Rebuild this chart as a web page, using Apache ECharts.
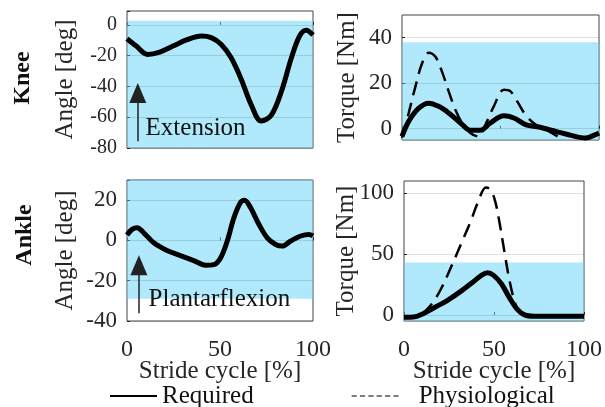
<html>
<head>
  <script src="https://cdn.jsdelivr.net/npm/echarts@6/dist/echarts.min.js"></script>
</head>
<body style="margin:0">
  <div id="main" style="width: 605px;height:407px;"></div>
  <script>
    // knee angle [deg]
    var kneeAngleX = [0, 5, 11, 17.6, 24.7, 32, 40, 45.3, 50.7, 56, 61.5, 66.8, 72.2, 77.6, 83, 88.4, 92.8, 96.4, 100];
    var kneeAngleReq = [-9, -13.8, -19.2, -17.7, -13.8, -9.8, -7.2, -8.3, -12.7, -21.4, -35.6, -52, -62.5, -58.6, -43.3, -21.4, -7.2, -3.5, -6.6];
    // knee torque [Nm]
    var kneeTorqueX = [0, 3.4, 8.5, 13.6, 18.6, 23.7, 29.7, 34.7, 39.8, 44.9, 51.7, 56.8, 62.7, 69.5, 78, 86.4, 93.2, 98.3, 100];
    var kneeTorqueReq = [-3.4, 3.2, 9, 11.2, 9.8, 6.9, 2.5, -0.7, -0.7, 2.5, 5.7, 4.7, 1.8, 0.7, -1.2, -3.1, -4.1, -2.6, -1.9];
    var kneeTorquePhysX = [0, 3.4, 6.8, 10.2, 13.6, 16.9, 20.3, 23.7, 27.1, 30.5, 34.7, 39, 42.4, 46.6, 51.7, 55.1, 58.5, 62.7, 67.8, 72.9, 79];
    var kneeTorquePhys = [-4, 6.9, 18.5, 28.8, 33.4, 31.7, 25.1, 16.4, 8.3, 2.5, -1.9, -3.5, 1.8, 9.8, 17.1, 16.4, 12, 6.1, 1.8, -0.4, -3.4];
    // ankle angle [deg]
    var ankleAngleX = [0, 2.7, 5.4, 9, 14.4, 21.5, 28.7, 35.9, 42.2, 46.7, 50.3, 53.9, 57.5, 61, 63.2, 66.4, 70.9, 75.4, 79.9, 83.5, 88, 93.4, 97.8, 100];
    var ankleAngleReq = [2.7, 5.5, 6.3, 3.8, -1.2, -5, -7.5, -10, -12.3, -12, -8.7, -0.3, 11.3, 18.8, 20, 16.3, 8, 1.3, -2, -2.8, -0.3, 2.2, 3, 2.2];
    // ankle torque [Nm]
    var ankleTorqueX = [0, 5.2, 10.3, 17.2, 24, 30.9, 37.8, 43, 46.4, 49.8, 54.1, 58.4, 62.7, 67, 72.2, 80.8, 100];
    var ankleTorqueReq = [-2, -1.8, 0.8, 6.3, 11.8, 18.7, 26.4, 32.5, 34.7, 32.5, 25.6, 14.6, 5, 0, -1.1, -1.1, -1.1];
    var ankleTorquePhysX = [10.3, 15.5, 20.6, 26.6, 31.8, 37, 41.2, 45.5, 48.1, 50.7, 53.3, 55.8, 58.4, 61, 63.6, 67];
    var ankleTorquePhys = [0.8, 9.1, 21.5, 40.8, 58.7, 76.6, 93.1, 104.7, 102.8, 93.1, 73.8, 51.8, 29.8, 13.2, 3.6, 0];

    // shaded ranges [low, high] and axis ticks
    var kneeAngleBand = [-80, 2.6];
    var kneeTorqueBand = [-5, 38];
    var ankleAngleBand = [-29, 30];
    var ankleTorqueBand = [-5, 43];
    var kneeAngleTicks = [-80, -60, -40, -20, 0];
    var kneeTorqueTicks = [0, 20, 40];
    var ankleAngleTicks = [-40, -20, 0, 20];
    var ankleTorqueTicks = [0, 50, 100];

    var font = '"Liberation Serif", "DejaVu Serif", serif';
    var ink = '#262626';
    var myChart = echarts.init(document.getElementById('main'));

    function zip(xs, ys) {
      return xs.map((x, i) => [x, ys[i]]);
    }

    function xAxisFor(idx, showLabels) {
      return {
        type: 'value', gridIndex: idx, min: 0, max: 100, interval: 50,
        name: showLabels ? 'Stride cycle [%]' : '',
        nameLocation: 'middle', nameGap: 31, nameMoveOverlap: false,
        nameTextStyle: { fontFamily: font, fontSize: 25, color: ink },
        axisLine: { show: false },
        axisTick: { show: true, inside: true, length: 3, lineStyle: { color: ink } },
        axisLabel: { show: showLabels, margin: 10, fontFamily: font, fontSize: 24, color: ink,
          showMinLabel: true, showMaxLabel: true, hideOverlap: false, alignMaxLabel: 'center' },
        splitLine: { show: false }
      };
    }

    // ticks counted from min (min is a multiple of step), labels kept only for listed ticks
    function yAxisFor(idx, min, max, ticks, step, name, gap, size) {
      var ax = {
        type: 'value', gridIndex: idx, min: min, max: max,
        name: name, nameLocation: 'middle', nameGap: gap, nameMoveOverlap: false,
        nameTextStyle: { fontFamily: font, fontSize: 25, color: ink },
        axisLine: { show: false },
        axisTick: { show: true, inside: true, length: 3, lineStyle: { color: ink } },
        axisLabel: { margin: 10, fontFamily: font, fontSize: size, color: ink,
          showMinLabel: true, showMaxLabel: true, hideOverlap: false,
          formatter: v => ticks.indexOf(v) >= 0 ? String(v) : '' },
        splitLine: { show: false }
      };
      if (step) {
        ax.interval = step;
      } else {
        ax.axisTick.customValues = ticks;
        ax.axisLabel.customValues = ticks;
      }
      return ax;
    }

    function gridLines(ticks) {
      return ticks.map(v => ({ yAxis: v, lineStyle: { color: 'rgba(0,0,0,0.12)', width: 1, type: 'solid' } }));
    }

    function band(b) {
      return {
        silent: true,
        itemStyle: { color: 'rgba(95,212,247,0.5)' },
        data: [[{ yAxis: b[0] }, { yAxis: b[1] }]]
      };
    }

    function arrow(x, y0, y1) {
      return [
        { coord: [x, y0], symbol: 'none' },
        { coord: [x, y1], symbol: 'triangle', symbolSize: [17, 20], lineStyle: { color: '#222', width: 1.5, type: 'solid' } }
      ];
    }

    function note(x, y, text) {
      return {
        silent: true, symbol: 'circle', symbolSize: 0,
        label: { show: true, position: 'right', distance: 0, formatter: text, fontFamily: font, fontSize: 25, color: '#111' },
        data: [{ coord: [x, y] }]
      };
    }

    var reqLine = { color: '#000', width: 5 };
    var physLine = { color: '#000', width: 2.5, type: [14, 8] };
    var black = { color: '#000' };

    var seriesList = [
      {
        name: 'Required', type: 'line', xAxisIndex: 0, yAxisIndex: 0, smooth: 0.35, symbol: 'none',
        lineStyle: reqLine, itemStyle: black, data: zip(kneeAngleX, kneeAngleReq),
        markArea: band(kneeAngleBand),
        markLine: { silent: true, symbol: ['none', 'none'], label: { show: false }, animation: false,
          data: gridLines(kneeAngleTicks).concat([arrow(5.8, -75.6, -44.3)]) },
        markPoint: note(10, -67.3, 'Extension')
      },
      {
        name: 'Required', type: 'line', xAxisIndex: 1, yAxisIndex: 1, smooth: 0.35, symbol: 'none',
        lineStyle: reqLine, itemStyle: black, data: zip(kneeTorqueX, kneeTorqueReq),
        markArea: band(kneeTorqueBand),
        markLine: { silent: true, symbol: ['none', 'none'], label: { show: false }, animation: false,
          data: gridLines(kneeTorqueTicks) }
      },
      {
        name: 'Physiological', type: 'line', xAxisIndex: 1, yAxisIndex: 1, smooth: 0.35, symbol: 'none',
        lineStyle: physLine, itemStyle: black, data: zip(kneeTorquePhysX, kneeTorquePhys)
      },
      {
        name: 'Required', type: 'line', xAxisIndex: 2, yAxisIndex: 2, smooth: 0.35, symbol: 'none',
        lineStyle: reqLine, itemStyle: black, data: zip(ankleAngleX, ankleAngleReq),
        markArea: band(ankleAngleBand),
        markLine: { silent: true, symbol: ['none', 'none'], label: { show: false }, animation: false,
          data: gridLines(ankleAngleTicks).concat([arrow(6.4, -36.2, -12.3)]) },
        markPoint: note(11.6, -29.5, 'Plantarflexion')
      },
      {
        name: 'Required', type: 'line', xAxisIndex: 3, yAxisIndex: 3, smooth: 0.35, symbol: 'none',
        lineStyle: reqLine, itemStyle: black, data: zip(ankleTorqueX, ankleTorqueReq),
        markArea: band(ankleTorqueBand),
        markLine: { silent: true, symbol: ['none', 'none'], label: { show: false }, animation: false,
          data: gridLines(ankleTorqueTicks) }
      },
      {
        name: 'Physiological', type: 'line', xAxisIndex: 3, yAxisIndex: 3, smooth: 0.35, symbol: 'none',
        lineStyle: physLine, itemStyle: black, data: zip(ankleTorquePhysX, ankleTorquePhys)
      }
    ];

    var boxStyle = { show: true, borderColor: '#444', borderWidth: 1, backgroundColor: 'transparent' };

    option = {
      animation: false,
      grid: [
        Object.assign({ left: 127, top: 11, width: 186, height: 137 }, boxStyle),
        Object.assign({ left: 402, top: 15, width: 197, height: 125 }, boxStyle),
        Object.assign({ left: 127, top: 180, width: 186, height: 141 }, boxStyle),
        Object.assign({ left: 404, top: 181, width: 195, height: 140 }, boxStyle)
      ],
      xAxis: [xAxisFor(0, false), xAxisFor(1, false), xAxisFor(2, true), xAxisFor(3, true)],
      yAxis: [
        yAxisFor(0, -80, 9, kneeAngleTicks, 20, 'Angle [deg]', 42, 20),
        yAxisFor(1, -5, 50, kneeTorqueTicks, null, 'Torque [Nm]', 35, 23),
        yAxisFor(2, -40, 30, ankleAngleTicks, 20, 'Angle [deg]', 42, 23),
        yAxisFor(3, -5, 110, ankleTorqueTicks, null, 'Torque [Nm]', 38, 23)
      ],
      legend: {
        left: 110, top: 377, padding: 0, itemWidth: 47, itemHeight: 2, itemGap: 98,
        selectedMode: false,
        textStyle: { fontFamily: font, fontSize: 25, color: '#111' },
        data: [
          { name: 'Required', icon: 'rect' },
          { name: 'Physiological', icon: 'path://M0,0h5v1h-5zM8,0h5v1h-5zM16,0h5v1h-5zM24,0h5v1h-5zM32,0h5v1h-5zM40,0h5v1h-5z',
            textStyle: { padding: [0, 0, 0, 15] } }
        ]
      },
      graphic: [
        { type: 'text', x: 23, y: 78, rotation: Math.PI / 2, style: { text: 'Knee', font: 'bold 24px "Liberation Serif"', fill: '#111', align: 'center', verticalAlign: 'middle' } },
        { type: 'text', x: 25, y: 235, rotation: Math.PI / 2, style: { text: 'Ankle', font: 'bold 24px "Liberation Serif"', fill: '#111', align: 'center', verticalAlign: 'middle' } }
      ],
      series: seriesList
    };

    myChart.setOption(option);
  </script>
</body>
</html>
